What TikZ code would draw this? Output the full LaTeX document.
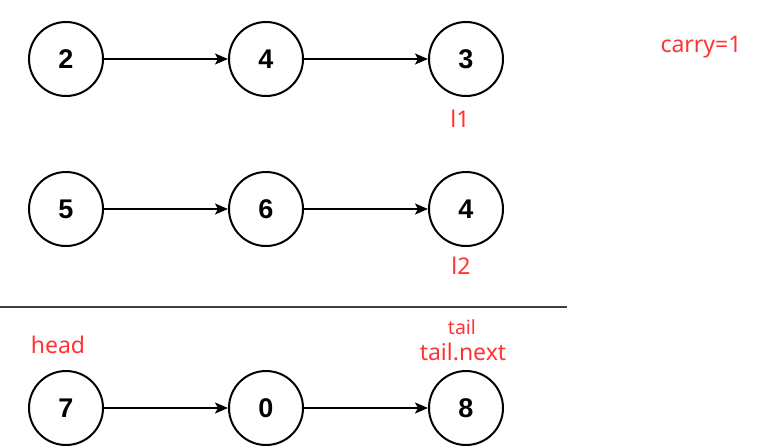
\documentclass[tikz,border=0pt]{standalone}
\usepackage{fontspec}
\setmainfont{Liberation Sans}
\newfontfamily\redfont{Noto Sans}
\usetikzlibrary{arrows.meta}
\definecolor{lblred}{HTML}{FF3333}
\definecolor{sepgray}{HTML}{404040}
\begin{document}
\begin{tikzpicture}[x=1pt,y=-1pt,
  listnode/.style={circle,draw=black,line width=2pt,minimum size=74pt,inner sep=0pt,font=\bfseries\fontsize{27}{29}\selectfont},
  link/.style={line width=1.8pt,-{Stealth[length=13pt,width=11pt,inset=3pt]}},
  redlbl/.style={text=lblred,font=\redfont\fontsize{23}{25}\selectfont,inner sep=0pt},
  smallred/.style={text=lblred,font=\redfont\fontsize{19.5}{21}\selectfont,inner sep=0pt}]
\useasboundingbox (0,0) rectangle (765,447);
% row 1
\node[listnode] (a1) at (66,59) {2};
\node[listnode] (a2) at (266,59) {4};
\node[listnode] (a3) at (466,59) {3};
\draw[link] (a1) -- (a2);
\draw[link] (a2) -- (a3);
% row 2
\node[listnode] (b1) at (66,209) {5};
\node[listnode] (b2) at (266,209) {6};
\node[listnode] (b3) at (466,209) {4};
\draw[link] (b1) -- (b2);
\draw[link] (b2) -- (b3);
% separator
\coordinate (s1) at (0,307);
\coordinate (s2) at (567,307);
\draw[sepgray,line width=2pt] (s1) -- (s2);
% row 3
\node[listnode] (c1) at (66,408) {7};
\node[listnode] (c2) at (266,408) {0};
\node[listnode] (c3) at (466,408) {8};
\draw[link] (c1) -- (c2);
\draw[link] (c2) -- (c3);
% labels
\node[redlbl] (carry) at (701,47) {carry=1};
\node[redlbl] (l1) at (460,119) {l1};
\node[redlbl] (l2) at (461,266) {l2};
\node[redlbl] (head) at (58,345) {head};
\node[smallred] (tail) at (462,327) {tail};
\node[redlbl] (tailnext) at (463,352) {tail.next};
\end{tikzpicture}
\end{document}
